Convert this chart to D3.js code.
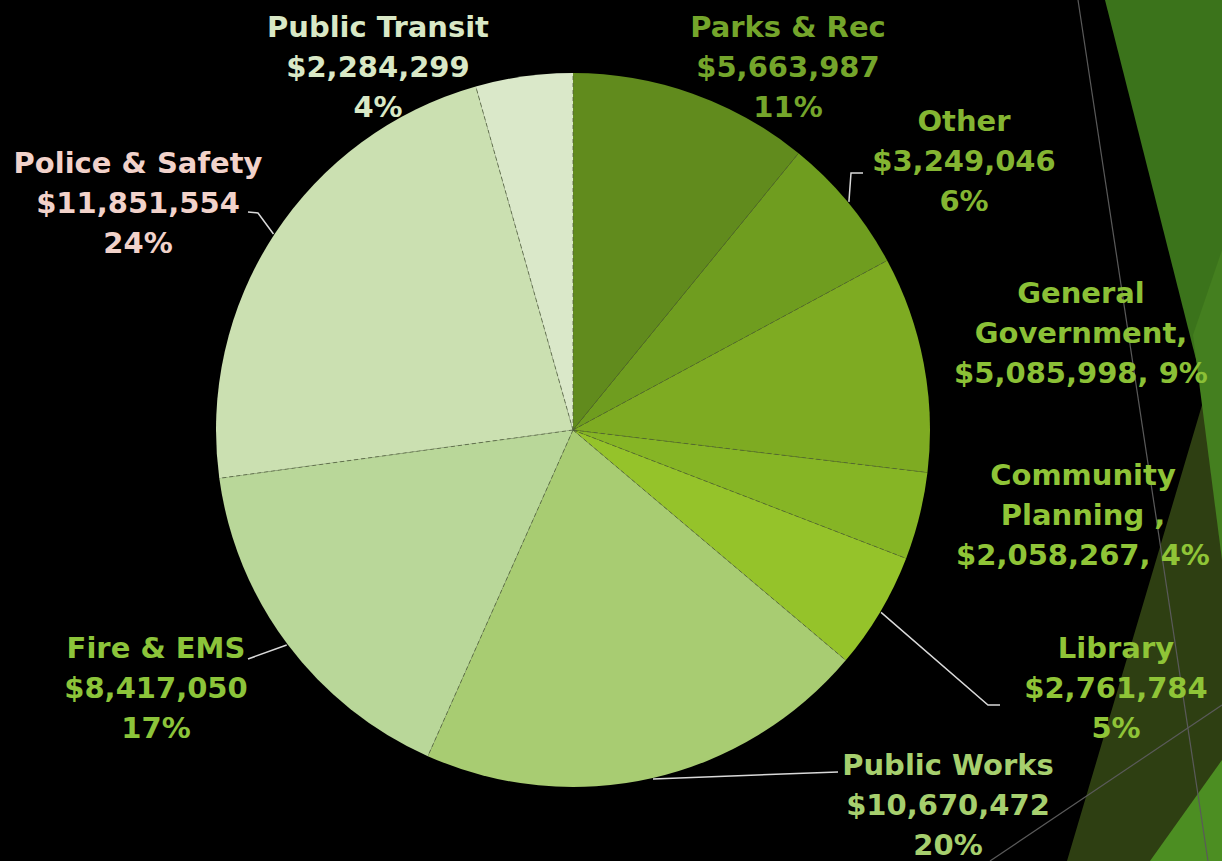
<!DOCTYPE html>
<html>
<head>
<meta charset="utf-8">
<script src="https://cdn.jsdelivr.net/npm/d3@7"></script>
<style>
  html, body { margin: 0; padding: 0; background: #000; }
  svg { display: block; }
  text { font-family: "DejaVu Sans", Verdana, sans-serif; font-weight: bold; }
</style>
</head>
<body>
<svg id="chart" width="1222" height="861"></svg>
<script>
// ---- data ----
const categories = ["Parks & Rec", "Other", "General Government", "Community Planning", "Library",
                    "Public Works", "Fire & EMS", "Police & Safety", "Public Transit"];
const values = [5663987, 3249046, 5085998, 2058267, 2761784, 10670472, 8417050, 11851554, 2284299];
const percentLabels = ["11%", "6%", "9%", "4%", "5%", "20%", "17%", "24%", "4%"];
const nameLines = [["Parks & Rec"], ["Other"], ["General", "Government,"], ["Community", "Planning ,"],
                   ["Library"], ["Public Works"], ["Fire & EMS"], ["Police & Safety"], ["Public Transit"]];
const inlineValue = [false, false, true, true, false, false, false, false, false];

// ---- styles ----
const sliceColors = ["#618b1d", "#6f9d1f", "#7eab22", "#86b525", "#95c32a",
                     "#a8cc72", "#b9d799", "#cbe0b1", "#dae8c9"];
const labelColors = ["#74a52b", "#84b532", "#8bc036", "#8fc437", "#8fc437",
                     "#a6cf6e", "#8cc43a", "#f1d2ca", "#d9e8c6"];

const svg = d3.select("#chart");
const W = 1222, H = 861;

// ---- slide decoration (right edge) ----
const deco = svg.append("g");
deco.append("polygon").attr("points", "1105,0 1222,0 1222,400 1205,395").attr("fill", "#3b731b");
deco.append("polygon").attr("points", "1205,395 1222,330 1222,861 1067,861").attr("fill", "#2e3f12");
deco.append("polygon").attr("points", "1193,335 1222,250 1222,560").attr("fill", "#447f1f");
deco.append("polygon").attr("points", "1150,861 1222,760 1222,861").attr("fill", "#4c8e22");
deco.append("line").attr("x1", 1078).attr("y1", 0).attr("x2", 1208).attr("y2", 861)
  .attr("stroke", "#5a5a5a").attr("stroke-width", 1.2);
deco.append("line").attr("x1", 990).attr("y1", 861).attr("x2", 1222).attr("y2", 705)
  .attr("stroke", "#5a5a5a").attr("stroke-width", 1.2);

// ---- pie ----
const cx = 573, cy = 430, R = 357;
const pie = d3.pie().sort(null).value(d => d.value).startAngle(0).endAngle(2 * Math.PI);
const data = categories.map((c, i) => ({ name: c, value: values[i], i }));
const arcs = pie(data);
const arc = d3.arc().innerRadius(0).outerRadius(R);

const g = svg.append("g").attr("transform", `translate(${cx},${cy})`);
g.selectAll("path.slice").data(arcs).join("path")
  .attr("class", "slice")
  .attr("d", arc)
  .attr("fill", d => sliceColors[d.data.i]);

// dashed separators
g.selectAll("line.sep").data(arcs).join("line")
  .attr("class", "sep")
  .attr("x1", 0).attr("y1", 0)
  .attr("x2", d => d3.pointRadial(d.startAngle, R)[0])
  .attr("y2", d => d3.pointRadial(d.startAngle, R)[1])
  .attr("stroke", "rgba(80,95,60,0.75)")
  .attr("stroke-width", 1)
  .attr("stroke-dasharray", "4,3");

// ---- labels ----
const fontSize = 29, lineH = 40;
// label anchor: center x, first baseline y (layout only)
const labelPos = {
  "Parks & Rec": [788, 37],
  "Other": [964, 131],
  "General Government": [1081, 303],
  "Community Planning": [1083, 485],
  "Library": [1116, 658],
  "Public Works": [948, 775],
  "Fire & EMS": [156, 658],
  "Police & Safety": [138, 173],
  "Public Transit": [378, 37]
};
// leader elbows (label-side points)
const leaderPts = {
  "Other": [[851, 173], [863, 173]],
  "Library": [[988, 705], [1000, 705]],
  "Public Works": [[838, 772]],
  "Fire & EMS": [[248, 659]],
  "Police & Safety": [[258, 213], [248, 212]]
};

const fmt = d3.format(",");
const lg = svg.append("g");
arcs.forEach(d => {
  const i = d.data.i, name = d.data.name;
  const [lx, ly] = labelPos[name];
  const money = "$" + fmt(values[i]);
  let lines;
  if (inlineValue[i]) lines = nameLines[i].concat([money + ", " + percentLabels[i]]);
  else lines = nameLines[i].concat([money, percentLabels[i]]);
  const t = lg.append("text")
    .attr("x", lx).attr("y", ly)
    .attr("text-anchor", "middle")
    .attr("font-size", fontSize)
    .attr("fill", labelColors[i]);
  lines.forEach((s, k) => {
    t.append("tspan").attr("x", lx).attr("y", ly + k * lineH).text(s);
  });

  if (leaderPts[name]) {
    const mid = (d.startAngle + d.endAngle) / 2;
    const p0 = d3.pointRadial(mid, R + 1);
    const pts = [[cx + p0[0], cy + p0[1]]].concat(leaderPts[name]);
    lg.append("path")
      .attr("d", d3.line()(pts))
      .attr("fill", "none")
      .attr("stroke", "#d9d9d9")
      .attr("stroke-width", 1.5);
  }
});
</script>
</body>
</html>
